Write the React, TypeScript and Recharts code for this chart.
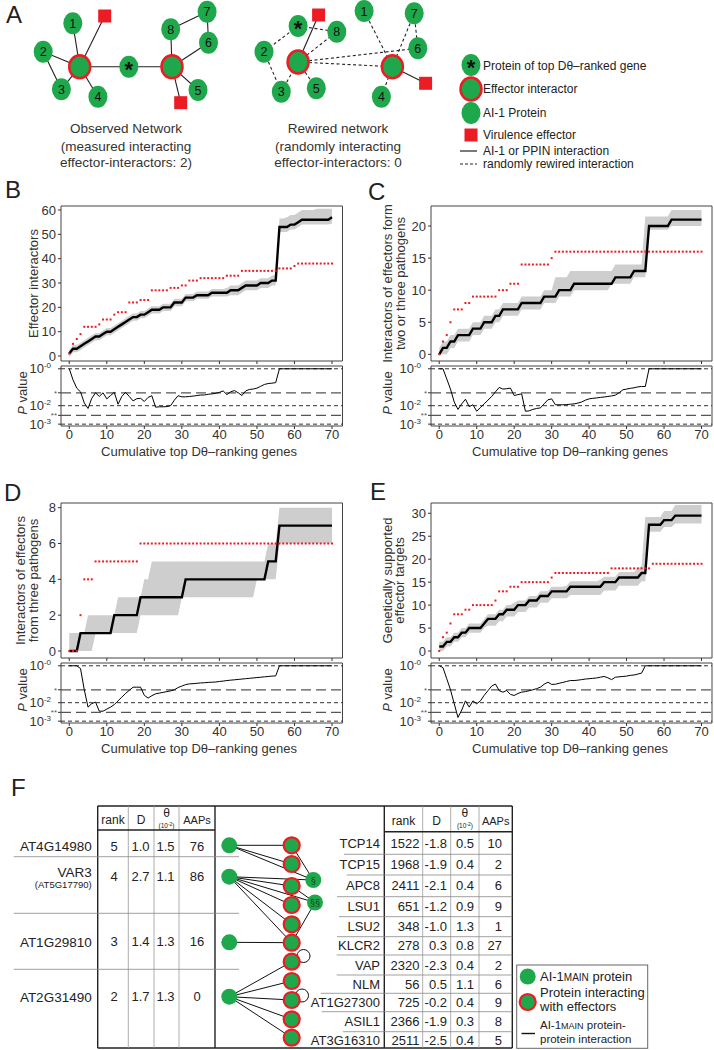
import React from 'react';
import {
  ComposedChart,
  Line,
  Area,
  XAxis,
  YAxis,
  ReferenceLine,
  ReferenceArea,
} from 'recharts';

const FONT = '"Liberation Sans", Arial, Helvetica, sans-serif';
const GREEN = '#1fa84b';
const RED = '#ec1c24';
const INK = '#333333';

// cumulative number of top D-theta ranked genes (x positions)
const genes = Array.from({ length: 71 }, (_, i) => i);
const xTicks = [0, 10, 20, 30, 40, 50, 60, 70];

// B: effector interactors
const bObserved = [1,5,7,9,12,12,12,12,13,15, 15,15,17,18,18,18,22,22,22,23, 23,23,27,27,27,27,27,28,28,28, 29,29,31,31,31,32,32,32,32,32, 32,32,33,33,33,33,35,35,35,35, 35,35,35,35,35,35,36,36,36,36, 37,38,38,38,38,38,38,38,38,38, 38];
const bExpected = [1,3,3,4,5,6,7,8,8,9, 10,10,11,12,13,14,15,16,16,17, 17,18,19,19,19,20,20,20,22,22, 22,24,24,24,25,25,25,25,26,26, 26,26,26,27,27,27,28,29,29,29, 29,30,30,30,31,31,53,53,53,54, 54,55,56,56,56,56,56,56,56,56, 57];
const bLow = [-0.5,1.5,1.5,2.5,3.5,4.5,5.5,6.5,6.5,7.5, 8.5,8.5,9.5,10.5,11.5,12.5,13.5,14.5,14.5,15.5, 15.5,16.5,17.5,17.5,17.5,18.5,18.5,18.5,20.5,20.5, 20.5,22.5,22.5,22.5,23.5,23.5,23.5,23.5,24.5,24.5, 24.5,24.5,24.5,25,25,25,26,27,27,27, 27,28,28,28,29,29,51,51,51,52, 52,53,54,54,54,54,54,54,54,54, 54.5];
const bHigh = [2.5,4.5,4.5,5.5,6.5,7.5,8.5,9.5,9.5,10.5, 11.5,11.5,12.5,13.5,14.5,15.5,16.5,17.5,17.5,18.5, 18.5,19.5,20.5,20.5,20.5,21.5,21.5,21.5,23.5,23.5, 23.5,25.5,25.5,25.5,26.5,26.5,26.5,26.5,27.5,27.5, 27.5,27.5,28,29,29,29,30,31,31,31, 31,32,32,32,33,33.5,56.5,56.5,57,58, 58,59,60,60,60,60,60.5,60.5,60.5,60.5, 60.5];
const bLogP = [0,-0.6,-1.05,-1.25,-1.85,-2.15,-1.6,-1.3,-1.5,-1.3, -1.63,-1.45,-1.28,-1.92,-1.5,-1.28,-1.5,-1.74,-1.62,-1.6, -1.77,-1.55,-1.46,-2.08,-2.06,-2.06,-2.05,-2.0,-1.7,-1.46, -1.52,-1.52,-1.5,-1.48,-1.45,-1.42,-1.42,-1.38,-1.36,-1.33, -1.28,-1.2,-1.4,-1.25,-1.18,-1.3,-1.45,-1.2,-1.12,-1.1, -1.05,-0.95,-0.85,-0.8,-0.78,-0.75,0,0,0,0, 0,0,0,0,0,0,0,0,0,0, 0];

// C: interactors of effectors from two or three pathogens
const cObserved = [0,2,3,5,7,7,7,8,8,9, 9,9,9,9,9,9,10,10,10,11, 11,11,14,14,14,14,14,14,14,14, 15,16,16,16,16,16,16,16,16,16, 16,16,16,16,16,16,16,16,16,16, 16,16,16,16,16,16,16,16,16,16, 16,16,16,16,16,16,16,16,16,16, 16];
const cExpected = [0,1,1,2,2,3,3,3,3,4, 4,4,5,5,5,6,6,7,7,7, 7,7,8,8,8,8,8,8,9,9, 9,9,10,10,10,10,11,11,11,11, 11,11,11,11,11,11,11,12,12,12, 12,12,13,13,13,13,20,20,20,20, 20,20,21,21,21,21,21,21,21,21, 21];
const cLow = [0,0,0,1,1,2,2,2,2,3, 3,3,4,4,4,5,5,6,6,6, 6,6,7,7,7,7,7,7,8,8, 8,8,9,9,9,9,10,10,10,10, 10,10,10,10,10,10,11,11,11,11, 11,11,12,12,12,12,19.4,19.4,19.4,19.4, 19.4,19.4,20,20,20,20,20,20,20,20, 20];
const cHigh = [1,2,2,3,3,4,4,4,4,5, 5,5,6,6,6,7,7,8,8,8, 8,8,9,9,9,9,9,9,10,10, 10,12,12,12,12,13,13,13,13,13, 13,13,13,13,13,13,13,14,14,14, 14,14,14,14,14,21.5,21.5,21.5,21.5,21.5, 21.5,21.5,22.5,22.5,22.5,22.5,22.5,22.5,22.5,22.5, 22.5];
const cLogP = [0,0,-0.55,-1.1,-1.8,-2.2,-1.9,-1.65,-2.05,-1.95, -2.3,-2.1,-1.9,-1.7,-1.5,-1.25,-1.01,-1.1,-1.08,-1.05, -1.45,-1.4,-1.36,-2.3,-2.28,-2.2,-2.15,-2.12,-1.9,-1.68, -1.63,-1.95,-1.95,-1.95,-1.94,-1.92,-1.9,-1.86,-1.8,-1.7, -1.63,-1.6,-1.58,-1.55,-1.53,-1.5,-1.47,-1.43,-1.3,-1.14, -1.1,-1.06,-1.03,-0.98,-0.96,-0.96,0,0,0,0, 0,0,0,0,0,0,0,0,0,0, 0];

// D: interactors of effectors from three pathogens
const dObserved = [0,0,0,2,4,4,4,5,5,5, 5,5,5,5,5,5,5,5,5,6, 6,6,6,6,6,6,6,6,6,6, 6,6,6,6,6,6,6,6,6,6, 6,6,6,6,6,6,6,6,6,6, 6,6,6,6,6,6,6,6,6,6, 6,6,6,6,6,6,6,6,6,6, 6];
const dExpected = [0,0,0,1,1,1,1,1,1,1, 1,1,2,2,2,2,2,2,2,3, 3,3,3,3,3,3,3,3,3,3, 3,4,4,4,4,4,4,4,4,4, 4,4,4,4,4,4,4,4,4,4, 4,4,4,5,5,5,7,7,7,7, 7,7,7,7,7,7,7,7,7,7, 7];
const dLow = [0,0,0,0,0,0,0,1,1,1, 1,1,1,1,1,1,1,1,1,2, 2,2,2,2,2,2,2,2,2,2, 3,3,3,3,3,3,3,3,3,3, 3,3,3,3,3,3,3,3,3,3, 4,4,4,4,4,4,6,6,6,6, 6,6,6,6,6,6,6,6,6,6, 6];
const dHigh = [1,1,1,1,1,2,2,2,2,2, 2,2,2,3,3,3,3,3,3,3, 4,4,5,5,5,5,5,5,5,5, 5,5,5,5,5,5,5,5,5,5, 5,5,5,5,5,5,5,5,5,5, 5,5,5,6,6,6,8,8,8,8, 8,8,8,8,8,8,8,8,8,8, 8];
const dLogP = [0,0,0,-0.15,-1.3,-2.24,-2.05,-1.97,-2.46,-2.46, -2.35,-2.24,-2.1,-1.9,-1.7,-1.5,-1.33,-1.16,-1.16,-1.16, -1.6,-1.75,-1.62,-1.52,-1.48,-1.44,-1.4,-1.36,-1.3,-1.18, -1.1,-1.02,-0.98,-0.97,-0.95,-0.93,-0.92,-0.9,-0.89,-0.88, -0.85,-0.83,-0.8,-0.78,-0.76,-0.74,-0.72,-0.7,-0.68,-0.66, -0.64,-0.62,-0.6,-0.58,-0.56,-0.55,0,0,0,0, 0,0,0,0,0,0,0,0,0,0, 0];

// E: genetically supported effector targets
const eObserved = [0,3,4,6,8,8,8,9,9,10, 10,10,10,10,10,11,13,13,13,14, 14,14,15,15,15,15,15,15,15,15, 16,17,17,17,17,17,17,17,17,17, 17,17,17,17,17,17,18,18,18,18, 18,18,18,18,18,18,18,19,19,19, 19,19,19,19,19,19,19,19,19,19, 19];
const eExpected = [1,1,2,2,3,3,4,4,5,5, 5,5,6,7,7,7,8,8,9,9, 9,10,10,10,11,11,11,12,12,12, 13,13,13,13,13,14,14,14,14,14, 14,14,14,14,15,15,15,15,16,16, 16,16,16,16,17,17,27.5,27.5,27.5,27.5, 28.5,28.5,28.5,29.5,29.5,29.5,29.5,29.5,29.5,29.5, 29.5];
const eLow = [0,0,1,1,2,2,3,3,4,4, 4,4,5,5.5,5.5,5.5,6.5,6.5,7.5,7.5, 7.5,8.5,8.5,8.5,9.5,9.5,9.5,10.5,10.5,10.5, 11.5,11.5,11.5,11.5,11.5,12.2,12.2,12.2,12.2,12.2, 12.2,12.2,12.2,12.2,13.2,13.2,13.2,13.2,14.2,14.2, 14.2,14.2,14.2,14.2,15.2,15.2,26,26,26,26, 27,27,27,27.8,27.8,27.8,27.8,27.8,27.8,27.8, 27.8];
const eHigh = [2,2,3,3,4,4,5,5,6,6, 6,6,7,8,8,8,9,9,10,10, 10.5,11,11,11,12,12,12,13,13,13, 14,14,14,14,14.2,15.2,15.2,15.2,15.2,15.2, 15.2,15.2,15.2,15.5,16.2,16.2,16.2,16.2,17.2,17.2, 17.2,17.2,17.2,18,18.5,29.2,29.2,29.2,29.2,29.2, 30.5,30.5,30.5,31.8,31.8,31.8,31.8,31.8,31.8,31.8, 31.8];
const eLogP = [0,-0.1,-0.7,-1.3,-2.05,-2.8,-2.4,-1.9,-2.24,-1.9, -2.06,-1.9,-1.6,-1.35,-1.1,-0.99,-1.35,-1.43,-1.34,-1.55, -1.61,-1.5,-1.43,-1.4,-1.35,-1.3,-1.24,-1.16,-1.0,-0.89, -1.01,-1.0,-0.95,-0.9,-0.85,-0.8,-0.8,-0.78,-0.75,-0.72, -0.7,-0.68,-0.66,-0.62,-0.58,-0.65,-0.75,-0.62,-0.6,-0.58, -0.56,-0.52,-0.5,-0.45,-0.4,0,0,0,0,0, 0,0,0,0,0,0,0,0,0,0, 0];

// P value axis (log10 scale): 1, 0.05 (*), 0.01, 0.003 (**), 0.001
const pTicks = [0, -1.301, -2, -2.523, -3];
const pTickText = ['-0', '*', '-2', '**', '-3'];

// panel F tables
const leftGenes = ['AT4G14980', 'VAR3', 'AT1G29810', 'AT2G31490'];
const leftRank = [5, 4, 3, 2];
const leftD = [1.0, 2.7, 1.4, 1.7];
const leftTheta = [1.5, 1.1, 1.3, 1.3];
const leftAAPs = [76, 86, 16, 0];
const rightGenes = ['TCP14', 'TCP15', 'APC8', 'LSU1', 'LSU2', 'KLCR2', 'VAP', 'NLM', 'AT1G27300', 'ASIL1', 'AT3G16310'];
const rightRank = [1522, 1968, 2411, 651, 348, 278, 2320, 56, 725, 2366, 2511];
const rightD = [-1.8, -1.9, -2.1, -1.2, -1.0, 0.3, -2.3, 0.5, -0.2, -1.9, -2.5];
const rightTheta = [0.5, 0.4, 0.4, 0.9, 1.3, 0.8, 0.4, 1.1, 0.4, 0.3, 0.4];
const rightAAPs = [10, 2, 6, 9, 1, 27, 2, 6, 9, 8, 5];

const xDomain: [number, number] = [-2.2, 72.8];
const pDomain: [number, number] = [-3.1, 0.15];
const MAIN_H = 155;
const P_GAP = 5;
const P_H = 60;
const P_TOP = 8;

function makeRows(obs: number[], exp: number[], lo: number[], hi: number[], logP: number[]) {
  return genes.map((x, i) => ({ x, obs: obs[i], exp: exp[i], band: [lo[i], hi[i]], logP: logP[i] }));
}

const RedDot = (p: any) => {
  if (p.cx == null || p.cy == null) return <g key={`n${p.index}`} />;
  return <rect key={`d${p.index}`} x={p.cx - 1} y={p.cy - 1} width={2} height={2} fill={RED} />;
};

const PTick = (p: any) => {
  const { x, y, payload } = p;
  const i = pTicks.findIndex((t) => Math.abs(t - payload.value) < 1e-6);
  const s = pTickText[i] || '';
  if (s.startsWith('*')) {
    return <text x={x + 1} y={y + 3} textAnchor="end" fontSize={8} fill="#555">{s}</text>;
  }
  return (
    <text x={x - 5} y={y + 4.5} textAnchor="end" fontSize={13} fill={INK}>
      10<tspan fontSize={8} dy={-5}>{s}</tspan>
    </text>
  );
};

type PanelProps = {
  rows: any[];
  boxL: number;
  boxT: number;
  boxW: number;
  yw: number;
  yDomain: [number, number];
  yTicks: number[];
};

const Panel: React.FC<PanelProps> = ({ rows, boxL, boxT, boxW, yw, yDomain, yTicks }) => {
  const w = yw + boxW + 2;
  return (
    <>
      <div style={{ position: 'absolute', left: boxL - yw, top: boxT - 2 }}>
        <ComposedChart width={w} height={MAIN_H + 8} data={rows} margin={{ top: 2, right: 2, bottom: 0, left: 0 }}>
          <XAxis type="number" dataKey="x" domain={xDomain} allowDataOverflow ticks={xTicks} interval={0}
            axisLine={false} tickSize={3} tickLine={{ stroke: INK }} tickFormatter={() => ''} height={6} />
          <YAxis type="number" domain={yDomain} allowDataOverflow ticks={yTicks} interval={0}
            axisLine={false} tickSize={3} tickMargin={2} tickLine={{ stroke: INK }}
            tick={{ fontSize: 13, fill: INK }} width={yw} />
          <Area dataKey="band" type="linear" stroke="none" fill="#cecece" fillOpacity={1} isAnimationActive={false} />
          <Line dataKey="exp" type="linear" stroke="#000" strokeWidth={2.4} dot={false} isAnimationActive={false} />
          <Line dataKey="obs" type="linear" stroke="none" dot={RedDot} activeDot={false} isAnimationActive={false} />
          <ReferenceArea x1={xDomain[0]} x2={xDomain[1]} y1={yDomain[0]} y2={yDomain[1]}
            fill="none" stroke="#444" strokeWidth={1} ifOverflow="visible" />
        </ComposedChart>
      </div>
      <div style={{ position: 'absolute', left: boxL - yw, top: boxT + MAIN_H + P_GAP - P_TOP }}>
        <ComposedChart width={w} height={P_H + P_TOP + 24} data={rows} margin={{ top: P_TOP, right: 2, bottom: 0, left: 0 }}>
          <XAxis type="number" dataKey="x" domain={xDomain} allowDataOverflow ticks={xTicks} interval={0}
            axisLine={false} tickSize={3} tickMargin={1} tickLine={{ stroke: INK }}
            tick={{ fontSize: 13, fill: INK }} height={24} />
          <YAxis type="number" domain={pDomain} allowDataOverflow ticks={pTicks} interval={0}
            axisLine={false} tickSize={3} tickMargin={2} tickLine={{ stroke: INK }}
            tick={(p: any) => <PTick {...p} />} width={yw} />
          <ReferenceLine y={0} stroke={INK} strokeDasharray="4 3" />
          <ReferenceLine y={-1.301} stroke="#555" strokeWidth={1.2} strokeDasharray="10 5" />
          <ReferenceLine y={-2} stroke={INK} strokeDasharray="4 3" />
          <ReferenceLine y={-2.523} stroke="#555" strokeWidth={1.2} strokeDasharray="10 5" />
          <ReferenceLine y={-3} stroke={INK} strokeDasharray="4 3" />
          <Line dataKey="logP" type="linear" stroke="#000" strokeWidth={1} dot={false} isAnimationActive={false} />
          <ReferenceArea x1={xDomain[0]} x2={xDomain[1]} y1={pDomain[0]} y2={pDomain[1]}
            fill="none" stroke="#444" strokeWidth={1} ifOverflow="visible" />
        </ComposedChart>
      </div>
    </>
  );
};

// ---------- panel A network drawing ----------
type NodeDef = [number, number, string, string?];
const obsNodes: Record<string, NodeDef> = {
  n1: [72.8, 23.3, 'g', '1'], q1: [104.7, 16, 'q'], n2: [43.2, 51.7, 'g', '2'],
  L: [79.7, 66.7, 'r'], s: [128.8, 66.7, 'g', '*'], R: [172, 66.7, 'r'],
  n8: [170.7, 29.3, 'g', '8'], n7: [207.1, 11.7, 'g', '7'], n6: [208.5, 42.7, 'g', '6'],
  n5: [198, 90, 'g', '5'], q2: [180.7, 102.7, 'q'], n3: [61.4, 89.3, 'g', '3'], n4: [97.9, 96.7, 'g', '4'],
};
const obsEdges: [string, string, boolean][] = [
  ['n1', 'L', false], ['q1', 'L', false], ['n2', 'L', false], ['n2', 'n3', false], ['n3', 'L', false],
  ['n4', 'L', false], ['L', 's', false], ['s', 'R', false], ['n8', 'R', false], ['n8', 'n7', false],
  ['n7', 'n6', false], ['n6', 'R', false], ['R', 'n5', false], ['R', 'q2', false],
];
const rewNodes: Record<string, NodeDef> = {
  s: [298.1, 26, 'g', '*'], q1: [318.6, 15, 'q'], n8: [336.8, 31.7, 'g', '8'], n2: [264, 51.7, 'g', '2'],
  L: [298.1, 62, 'r'], n3: [281.3, 91.7, 'g', '3'], n5: [316.3, 88.3, 'g', '5'], n1: [364.1, 11, 'g', '1'],
  n7: [414.2, 13.3, 'g', '7'], n6: [417.8, 48.3, 'g', '6'], R: [392.4, 66.7, 'r'], q2: [425.6, 83.3, 'q'],
  n4: [381.4, 96.7, 'g', '4'],
};
const rewEdges: [string, string, boolean][] = [
  ['q1', 'L', false], ['R', 'q2', false], ['s', 'n2', true], ['s', 'n8', true], ['L', 'n8', true],
  ['n2', 'n3', true], ['n3', 'L', true], ['n5', 'L', true], ['L', 'n6', true], ['L', 'R', true],
  ['n1', 'R', true], ['n7', 'R', true], ['n7', 'n6', true], ['R', 'n4', true],
];

const NetNode = ({ n }: { n: NodeDef }) => {
  const [x, y, t, l] = n;
  if (t === 'q') return <rect x={x - 6.5} y={y - 6.5} width={13} height={13} fill={RED} />;
  return (
    <g>
      <ellipse cx={x} cy={y} rx={t === 'r' ? 10.5 : 9.5} ry={t === 'r' ? 11.5 : 11} fill={GREEN}
        stroke={t === 'r' ? RED : 'none'} strokeWidth={t === 'r' ? 2.5 : 0} />
      {l === '*' && <text x={x} y={y + 10} textAnchor="middle" fontSize={22} fontWeight="bold" fill="#111">*</text>}
      {l && l !== '*' && <text x={x} y={y + 4.5} textAnchor="middle" fontSize={12.5} fill="#111">{l}</text>}
    </g>
  );
};

const Network = ({ nodes, edges }: { nodes: Record<string, NodeDef>; edges: [string, string, boolean][] }) => (
  <g>
    {edges.map(([a, b, dash], i) => (
      <line key={i} x1={nodes[a][0]} y1={nodes[a][1]} x2={nodes[b][0]} y2={nodes[b][1]}
        stroke="#222" strokeWidth={1.1} strokeDasharray={dash ? '3 2.5' : undefined} />
    ))}
    {Object.keys(nodes).map((k) => <NetNode key={k} n={nodes[k]} />)}
  </g>
);

const PanelA = () => (
  <g>
    <Network nodes={obsNodes} edges={obsEdges} />
    <Network nodes={rewNodes} edges={rewEdges} />
    <g fontSize={13.5} fill={INK} textAnchor="middle">
      <text x={126} y={133}>Observed Network</text>
      <text x={126} y={150.5}>(measured interacting</text>
      <text x={126} y={167}>effector-interactors: 2)</text>
      <text x={338} y={133}>Rewired network</text>
      <text x={338} y={150.5}>(randomly interacting</text>
      <text x={338} y={167}>effector-interactors: 0</text>
    </g>
    <NetNode n={[471, 65, 'g', '*']} />
    <NetNode n={[471, 89, 'r']} />
    <NetNode n={[471, 113, 'g']} />
    <NetNode n={[471, 135, 'q']} />
    <line x1={460} x2={477} y1={151} y2={151} stroke="#222" strokeWidth={1.2} />
    <line x1={460} x2={477} y1={164} y2={164} stroke="#222" strokeWidth={1.2} strokeDasharray="3 2" />
    <g fontSize={12} fill="#222">
      <text x={483} y={69.5}>Protein of top Dθ–ranked gene</text>
      <text x={483} y={93}>Effector interactor</text>
      <text x={483} y={117}>AI-1 Protein</text>
      <text x={483} y={139}>Virulence effector</text>
      <text x={483} y={155}>AI-1 or PPIN interaction</text>
      <text x={483} y={168}>randomly rewired interaction</text>
    </g>
  </g>
);

// ---------- panel F ----------
const leftRowY = [846, 876.7, 941.7, 996.7];
const rightRowY = [843.5, 864.7, 885.9, 906.2, 926.7, 945.9, 965.2, 984.2, 1002.5, 1021.7, 1040.5];
const leftNodeY = [845.3, 876.7, 942.3, 996.7];
const rightNodeY = [845.3, 864, 886, 905, 924.3, 942.7, 961.7, 981, 1000, 1019.3, 1037.7];
const rightSepY = [854.3, 875, 896.7, 916.7, 936.7, 955, 975, 993.3, 1011.7, 1031.7];
const rightSepX = [344, 346.7, 337, 339, 337, 336.7, 336.7, 320.7, 321.7, 343];
const links: [number, number][] = [[0, 0], [0, 1], [1, 2], [1, 3], [1, 4], [1, 5], [2, 5], [3, 6], [3, 7], [3, 8], [3, 9], [3, 10]];

const ThetaHead = ({ cx }: { cx: number }) => (
  <g>
    <text x={cx} y={817} textAnchor="middle" fontSize={12}>θ</text>
    <text x={cx} y={828} textAnchor="middle" fontSize={6.5}>(10<tspan fontSize={5} dy={-2}>-2</tspan><tspan dy={2}>)</tspan></text>
  </g>
);

const PanelF = () => {
  const LX = 229.3;
  const RX = 291.7;
  const sec1: [number, number] = [313.3, 880];
  const sec2: [number, number] = [315, 902.5];
  return (
    <g fill="#222">
      {/* table frame */}
      <line x1={97.7} x2={512.3} y1={806} y2={806} stroke="#222" strokeWidth={1.6} />
      <line x1={97.7} x2={512.3} y1={1048} y2={1048} stroke="#222" strokeWidth={1.6} />
      {[97.7, 215, 384.3, 512.3].map((x) => <line key={x} x1={x} x2={x} y1={806} y2={1048} stroke="#222" strokeWidth={1.4} />)}
      {[128.3, 154, 179, 422.7, 450.7, 479].map((x) => <line key={x} x1={x} x2={x} y1={806} y2={1048} stroke="#999" strokeWidth={0.8} />)}
      <line x1={97.7} x2={215} y1={830} y2={830} stroke="#222" strokeWidth={1.4} />
      <line x1={384.3} x2={512.3} y1={831.7} y2={831.7} stroke="#222" strokeWidth={1.4} />
      {[856.7, 913.3, 969.3].map((y) => <line key={y} x1={13.7} x2={239} y1={y} y2={y} stroke="#888" strokeWidth={0.8} />)}
      {rightSepY.map((y, i) => <line key={y} x1={rightSepX[i]} x2={512.3} y1={y} y2={y} stroke="#888" strokeWidth={0.8} />)}
      {/* headers */}
      <g fontSize={12}>
        <text x={113} y={823.5} textAnchor="middle">rank</text>
        <text x={141} y={823.5} textAnchor="middle">D</text>
        <text x={197} y={823.5} textAnchor="middle" fontSize={11}>AAPs</text>
        <text x={403.5} y={824.5} textAnchor="middle">rank</text>
        <text x={436.7} y={824.5} textAnchor="middle">D</text>
        <text x={495.7} y={824.5} textAnchor="middle" fontSize={11}>AAPs</text>
      </g>
      <ThetaHead cx={166.5} />
      <ThetaHead cx={464.9} />
      {/* left rows */}
      <g fontSize={13}>
        {leftGenes.map((g, i) => (
          <g key={g}>
            {g === 'VAR3' ? (
              <>
                <text x={91.7} y={877} textAnchor="end" fontSize={13.5}>VAR3</text>
                <text x={91.7} y={888} textAnchor="end" fontSize={9.5}>(AT5G17790)</text>
              </>
            ) : (
              <text x={91.7} y={leftRowY[i] + 5} textAnchor="end" fontSize={13.5}>{g}</text>
            )}
            <text x={114} y={leftRowY[i] + 4.5} textAnchor="middle">{leftRank[i]}</text>
            <text x={140.5} y={leftRowY[i] + 4.5} textAnchor="middle">{leftD[i].toFixed(1)}</text>
            <text x={165.5} y={leftRowY[i] + 4.5} textAnchor="middle">{leftTheta[i].toFixed(1)}</text>
            <text x={197} y={leftRowY[i] + 4.5} textAnchor="middle">{leftAAPs[i]}</text>
          </g>
        ))}
        {rightGenes.map((g, i) => (
          <g key={g}>
            <text x={380} y={rightRowY[i] + 4.5} textAnchor="end">{g}</text>
            <text x={419.5} y={rightRowY[i] + 4.5} textAnchor="end">{rightRank[i]}</text>
            <text x={447} y={rightRowY[i] + 4.5} textAnchor="end">{rightD[i].toFixed(1)}</text>
            <text x={465} y={rightRowY[i] + 4.5} textAnchor="middle">{rightTheta[i].toFixed(1)}</text>
            <text x={502} y={rightRowY[i] + 4.5} textAnchor="end">{rightAAPs[i]}</text>
          </g>
        ))}
      </g>
      {/* interaction network */}
      <g stroke="#111" strokeWidth={1} fill="none">
        {links.map(([a, b], i) => <line key={i} x1={LX} y1={leftNodeY[a]} x2={RX} y2={rightNodeY[b]} />)}
        <line x1={LX} y1={leftNodeY[0]} x2={sec1[0]} y2={sec1[1]} />
        <line x1={RX} y1={rightNodeY[0]} x2={sec1[0]} y2={sec1[1]} />
        <line x1={LX} y1={leftNodeY[1]} x2={sec1[0]} y2={sec1[1]} />
        <line x1={LX} y1={leftNodeY[1]} x2={sec2[0]} y2={sec2[1]} />
        <line x1={RX} y1={rightNodeY[2]} x2={sec2[0]} y2={sec2[1]} />
        <line x1={sec2[0]} y1={sec2[1]} x2={RX} y2={rightNodeY[5]} />
        <circle cx={303.5} cy={956} r={6.5} />
        <circle cx={302} cy={995.5} r={6.5} />
      </g>
      {leftNodeY.map((y) => <circle key={y} cx={LX} cy={y} r={8} fill={GREEN} />)}
      {rightNodeY.map((y) => <circle key={y} cx={RX} cy={y} r={8} fill={GREEN} stroke={RED} strokeWidth={2.2} />)}
      <circle cx={sec1[0]} cy={sec1[1]} r={8} fill={GREEN} />
      <circle cx={sec2[0]} cy={sec2[1]} r={8} fill={GREEN} />
      <text x={sec1[0]} y={sec1[1] + 3.5} textAnchor="middle" fontSize={9} fill="#0b3d1c">§</text>
      <text x={sec2[0]} y={sec2[1] + 3.5} textAnchor="middle" fontSize={9} fill="#0b3d1c">§§</text>
      {/* legend */}
      <rect x={516.7} y={965} width={131} height={83.3} fill="#fff" stroke="#666" strokeWidth={1} />
      <circle cx={527.7} cy={976.5} r={8} fill={GREEN} />
      <circle cx={527.7} cy={1002} r={8} fill={GREEN} stroke={RED} strokeWidth={2.2} />
      <line x1={521.5} x2={535} y1={1033.5} y2={1033.5} stroke="#111" strokeWidth={1.4} />
      <g fontSize={13}>
        <text x={540} y={981}>AI-1<tspan fontSize={10}>MAIN</tspan> protein</text>
        <text x={540} y={996.5}>Protein interacting</text>
        <text x={540} y={1011}>with effectors</text>
        <text x={540} y={1029} fontSize={11.5}>AI-1<tspan fontSize={9}>MAIN</tspan> protein-</text>
        <text x={540} y={1043} fontSize={11.5}>protein interaction</text>
      </g>
    </g>
  );
};

// ---------- titles and panel letters ----------
const VTitle = ({ x, y, lines }: { x: number; y: number; lines: React.ReactNode[] }) => (
  <g>
    {lines.map((l, i) => (
      <text key={i} transform={`translate(${x + 4.5 + i * 12.5},${y}) rotate(-90)`} textAnchor="middle" fontSize={13} fill={INK}>{l}</text>
    ))}
  </g>
);

const pTitle = <><tspan fontStyle="italic">P</tspan> value</>;

const Titles = () => (
  <g>
    <g fontSize={24} fill="#222">
      <text x={6} y={23}>A</text>
      <text x={5} y={198}>B</text>
      <text x={368} y={200}>C</text>
      <text x={4} y={501}>D</text>
      <text x={370} y={500}>E</text>
      <text x={11} y={796}>F</text>
    </g>
    <VTitle x={33} y={283.5} lines={['Effector interactors']} />
    <VTitle x={387.5} y={283.5} lines={['Interactors of effectors form', 'two or three pathogens']} />
    <VTitle x={20.5} y={580.5} lines={['Interactors of effectors', 'from three pathogens']} />
    <VTitle x={387} y={580.5} lines={['Genetically supported', 'effector targets']} />
    <VTitle x={22.5} y={393} lines={[pTitle]} />
    <VTitle x={387.5} y={393} lines={[pTitle]} />
    <VTitle x={22.5} y={690} lines={[pTitle]} />
    <VTitle x={387.5} y={690} lines={[pTitle]} />
    <g fontSize={13} fill={INK} textAnchor="middle">
      <text x={199} y={456}>Cumulative top Dθ–ranking genes</text>
      <text x={570} y={456}>Cumulative top Dθ–ranking genes</text>
      <text x={199} y={753}>Cumulative top Dθ–ranking genes</text>
      <text x={570} y={753}>Cumulative top Dθ–ranking genes</text>
    </g>
  </g>
);

export default function App() {
  return (
    <div style={{ position: 'absolute', left: 0, top: 0, width: 714, height: 1050, overflow: 'hidden', background: '#fff', fontFamily: FONT }}>
      <svg width={714} height={1050} style={{ position: 'absolute', left: 0, top: 0 }} fontFamily={FONT}>
        <PanelA />
        <PanelF />
        <Titles />
      </svg>
      <Panel rows={makeRows(bObserved, bExpected, bLow, bHigh, bLogP)} boxL={61} boxT={206} boxW={281.5} yw={61}
        yDomain={[-2.05, 61.65]} yTicks={[0, 10, 20, 30, 40, 50, 60]} />
      <Panel rows={makeRows(cObserved, cExpected, cLow, cHigh, cLogP)} boxL={431} boxT={206} boxW={281} yw={45}
        yDomain={[-1.04, 23.12]} yTicks={[0, 5, 10, 15, 20]} />
      <Panel rows={makeRows(dObserved, dExpected, dLow, dHigh, dLogP)} boxL={61} boxT={503} boxW={281.5} yw={61}
        yDomain={[-0.39, 8.26]} yTicks={[0, 2, 4, 6, 8]} />
      <Panel rows={makeRows(eObserved, eExpected, eLow, eHigh, eLogP)} boxL={431} boxT={503} boxW={281} yw={45}
        yDomain={[-1.52, 32.24]} yTicks={[0, 5, 10, 15, 20, 25, 30]} />
    </div>
  );
}
